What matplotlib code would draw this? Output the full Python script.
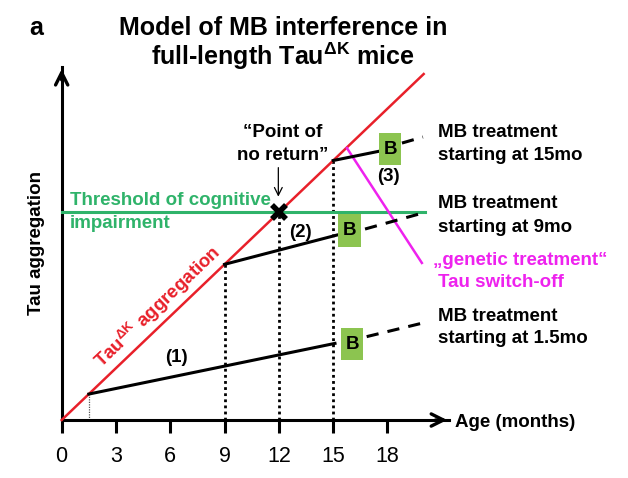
import numpy as np
import matplotlib
matplotlib.use("Agg")
import matplotlib.pyplot as plt
from matplotlib.patches import Rectangle

plt.rcParams['font.family'] = ['Liberation Sans', 'DejaVu Sans']
plt.rcParams['mathtext.fontset'] = 'custom'
plt.rcParams['mathtext.rm'] = 'Liberation Sans:bold'
plt.rcParams['mathtext.bf'] = 'Liberation Sans:bold'
plt.rcParams['mathtext.default'] = 'bf'

# data (age in months, aggregation in arbitrary units)
red_x = [0, 20]
red_y = [0, 20]
threshold = 12
thr_x = [0, 20.1]
start_ages = [1.5, 9, 15]
treat_end_x = [15.1, 15.2, 17.6]
treat_end_y = [4.43, 10.69, 15.55]
box_x = [16.04, 15.9, 18.14]
box_y = [4.39, 10.95, 15.66]
dash_x0 = [16.85, 16.76, 18.8]
dash_y0 = [4.82, 11.04, 16.01]
dash_x1 = [19.96, 19.96, 19.96]
dash_y1 = [5.61, 11.97, 16.36]
switch_x = [15.76, 19.9]
switch_y = [15.72, 9.08]
vline_ages = [1.5, 9, 12, 15]
xticks = [0, 3, 6, 9, 12, 15, 18]
treat_labels = ["(1)", "(2)", "(3)"]
mb_line1 = "MB treatment"
mb_line2 = ["starting at 1.5mo", "starting at 9mo", "starting at 15mo"]

RED = "#e8202a"
GREEN = "#2fb36a"
BOXG = "#8cc450"
MAG = "#ee22ee"
FS = 13.5

fig = plt.figure(figsize=(6.28, 4.78), dpi=100)
ax = fig.add_axes([0.0982, 0.1213, 0.6168, 0.7383])
ax.set_xlim(0, 21.4)
ax.set_ylim(0, 20.4)
for s in ['top', 'right']:
    ax.spines[s].set_visible(False)
for s in ['left', 'bottom']:
    ax.spines[s].set_linewidth(2.2)
ax.set_xticks(xticks)
ax.set_yticks([])
ax.tick_params(axis='x', direction='out', length=9.4, width=2.2, pad=9, labelsize=15.5)


def two_lines(x, y1, y2, l1, l2, **kw):
    ax.text(x, y1, l1, fontsize=FS, fontweight='bold', va='baseline', clip_on=False, **kw)
    ax.text(x, y2, l2, fontsize=FS, fontweight='bold', va='baseline', clip_on=False, **kw)


# axis arrows
ax.annotate('', xy=(21.45, 0), xytext=(20.5, 0), annotation_clip=False,
            arrowprops=dict(arrowstyle='->', lw=2.4, mutation_scale=22, color='black'))
ax.annotate('', xy=(0, 20.45), xytext=(0, 19.5), annotation_clip=False,
            arrowprops=dict(arrowstyle='->', lw=2.4, mutation_scale=22, color='black'))

# dotted guides
for a in vline_ages:
    if a == 1.5:
        ax.plot([a, a], [0, a], color='#555555', lw=0.9, ls=(0, (1, 1)), zorder=2)
    else:
        ax.plot([a, a], [0, a], color='black', lw=2.0, ls=(0, (1, 1.2)), zorder=2)

# threshold
ax.plot(thr_x, [threshold, threshold], color=GREEN, lw=2.2, zorder=3, clip_on=False)

# tau aggregation
ax.plot(red_x, red_y, color=RED, lw=1.8, zorder=4, clip_on=False)

# treatment lines
for i, a in enumerate(start_ages):
    ax.plot([a, treat_end_x[i]], [a, treat_end_y[i]], color='black', lw=2.2, zorder=5)
    ax.plot([dash_x0[i], dash_x1[i]], [dash_y0[i], dash_y1[i]], color='black', lw=2.2,
            ls=(0, (4, 3)), zorder=5, clip_on=False)
    ax.add_patch(Rectangle((box_x[i] - 0.625, box_y[i] - 0.945), 1.25, 1.89,
                           facecolor=BOXG, edgecolor='none', zorder=6))
    ax.text(box_x[i], box_y[i], "B", fontsize=FS, fontweight='bold', ha='center',
            va='center', zorder=7)

# genetic switch-off
ax.plot(switch_x, switch_y, color=MAG, lw=1.8, zorder=4, clip_on=False)

# point of no return
ax.plot([12], [threshold], marker='x', color='black', ms=10, mew=4, zorder=8)
ax.annotate('', xy=(11.97, 12.75), xytext=(11.97, 14.75),
            arrowprops=dict(arrowstyle='->', lw=0.9, mutation_scale=14, color='black'))
two_lines(12.2, 16.38, 15.03, "\u201cPoint of", "no return\u201d", ha='center')

two_lines(0.46, 12.43, 11.08, "Threshold of cognitive", "impairment", color=GREEN, ha='left')

ax.text(6.33, 3.64, treat_labels[0], fontsize=FS, fontweight='bold', ha='center', va='center')
ax.text(13.2, 10.85, treat_labels[1], fontsize=FS, fontweight='bold', ha='center', va='center')
ax.text(18.03, 14.1, treat_labels[2], fontsize=FS, fontweight='bold', ha='center', va='center')

ax.text(5.3, 6.55, "Tau$^{\u0394K}$ aggregation", fontsize=FS, fontweight='bold',
        color=RED, ha='center', va='center', rotation=43.7, rotation_mode='anchor')

for l2, yb in zip(mb_line2, [(5.74, 4.43), (12.24, 10.88), (16.38, 15.03)]):
    two_lines(20.81, yb[0], yb[1], mb_line1, l2, ha='left')

ax.text(20.5, 8.96, "\u201egenetic treatment\u201c", fontsize=FS, fontweight='bold',
        color=MAG, ha='left', va='baseline', clip_on=False)
ax.text(20.8, 7.71, "Tau switch-off", fontsize=FS, fontweight='bold',
        color=MAG, ha='left', va='baseline', clip_on=False)

ax.text(21.73, -0.12, "Age (months)", fontsize=FS, fontweight='bold', ha='left', va='center')

ax.set_ylabel("Tau aggregation", fontsize=FS, fontweight='bold')
ax.yaxis.set_label_coords(-0.043, 0.5016)

fig.text(0.057, 0.941, "a", fontsize=18, fontweight='bold', ha='center', va='center')
fig.text(0.4506, 0.941, "Model of MB interference in", fontsize=18, fontweight='bold',
         ha='center', va='center')
fig.text(0.4506, 0.883, "full-length Tau$^{\u0394K}$ mice", fontsize=18, fontweight='bold',
         ha='center', va='center')

fig.savefig("out.png", dpi=100)
